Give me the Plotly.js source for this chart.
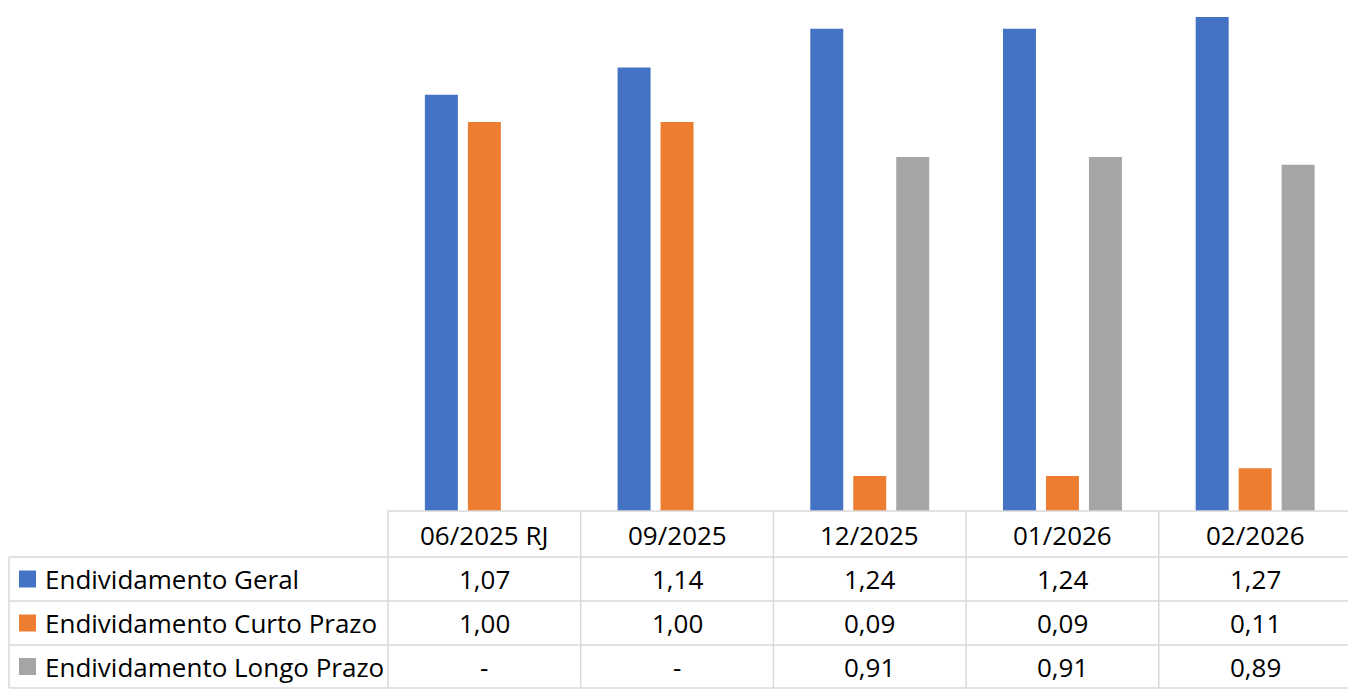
<!DOCTYPE html>
<html>
<head>
<meta charset="utf-8">
<script src="https://cdn.plot.ly/plotly-3.0.1.min.js"></script>
<style>html,body{margin:0;padding:0;background:#fff;}#chart{width:1348px;height:692px;}</style>
</head>
<body>
<div id="chart"></div>
<script>
// ---- data ----
const categories = ["06/2025 RJ", "09/2025", "12/2025", "01/2026", "02/2026"];
const seriesNames = ["Endividamento Geral", "Endividamento Curto Prazo", "Endividamento Longo Prazo"];
const geral = [1.07, 1.14, 1.24, 1.24, 1.27];
const curto = [1.00, 1.00, 0.09, 0.09, 0.11];
const longo = [null, null, 0.91, 0.91, 0.89];
const colors = ["#4472C4", "#ED7D31", "#A5A5A5"];

// ---- layout constants ----
const W = 1348, H = 692;
const L = 388, B = 181;            // plot area margins
const plotH = H - B;               // 511
const catW = 192.7;                // px per category
const xr = [-0.5, -0.5 + (W - L) / catW];
const yr = [0, 1.3136];
const FONT = "Open Sans, Noto Sans, sans-serif";
const FS = 26;
const gridColor = "#D9D9D9";

function px2py(Y) { return (plotH - Y) / plotH; }           // pixel row -> paper y
function cat2px(v) { return (v - xr[0]) / (xr[1] - xr[0]); } // category pos -> paper x
function pxX(X) { return (X - L) / (W - L); }

const allSeries = [geral, curto, longo];
const traces = allSeries.map((vals, k) => ({
  type: "bar",
  name: seriesNames[k],
  x: categories.map((c, i) => i),
  y: vals,
  marker: { color: colors[k], line: { width: 0 } },
  hoverinfo: "skip"
}));

// table geometry (pixel rows)
const rowsY = [511, 557, 601, 645, 688];
const labelLeft = 9;

const shapes = [];
const annotations = [];
const lw = 1.5;
// horizontal lines
shapes.push({ type: "line", xref: "paper", yref: "paper", x0: 0, x1: 1.01, y0: px2py(rowsY[0]), y1: px2py(rowsY[0]), line: { color: gridColor, width: lw } });
for (let r = 1; r < rowsY.length; r++) {
  shapes.push({ type: "line", xref: "paper", yref: "paper", x0: pxX(labelLeft), x1: 1.01, y0: px2py(rowsY[r]), y1: px2py(rowsY[r]), line: { color: gridColor, width: lw } });
}
// vertical lines
shapes.push({ type: "line", xref: "paper", yref: "paper", x0: pxX(labelLeft), x1: pxX(labelLeft), y0: px2py(rowsY[1]), y1: px2py(rowsY[4]), line: { color: gridColor, width: lw } });
for (let i = 0; i <= categories.length; i++) {
  const xp = cat2px(i - 0.5);
  if (xp > 1.001) continue;
  shapes.push({ type: "line", xref: "paper", yref: "paper", x0: xp, x1: xp, y0: px2py(rowsY[0]), y1: px2py(rowsY[4]), line: { color: gridColor, width: lw } });
}

function fmt(v) { return v === null ? "-" : v.toFixed(2).replace(".", ","); }

// header
categories.forEach((c, i) => {
  annotations.push({ xref: "paper", yref: "paper", x: cat2px(i), y: px2py((rowsY[0] + rowsY[1]) / 2 + 1), text: c, showarrow: false, xanchor: "center", yanchor: "middle", font: { family: FONT, size: FS, color: "#000" } });
});
// rows
allSeries.forEach((vals, k) => {
  const yc = px2py((rowsY[k + 1] + rowsY[k + 2]) / 2);
  // legend key
  shapes.push({ type: "rect", xref: "paper", yref: "paper", x0: pxX(19), x1: pxX(36), y0: px2py((rowsY[k + 1] + rowsY[k + 2]) / 2 - 8.5), y1: px2py((rowsY[k + 1] + rowsY[k + 2]) / 2 + 8.5), fillcolor: colors[k], line: { width: 0 } });
  annotations.push({ xref: "paper", yref: "paper", x: pxX(43), y: yc, text: seriesNames[k], showarrow: false, xanchor: "left", yanchor: "middle", font: { family: FONT, size: FS, color: "#000" } });
  vals.forEach((v, i) => {
    annotations.push({ xref: "paper", yref: "paper", x: cat2px(i), y: yc, text: fmt(v), showarrow: false, xanchor: "center", yanchor: "middle", font: { family: FONT, size: FS, color: "#000" } });
  });
});

const layout = {
  width: W, height: H,
  margin: { l: L, r: 0, t: 0, b: B, pad: 0 },
  paper_bgcolor: "#fff", plot_bgcolor: "#fff",
  barmode: "group",
  bargap: 0.331,
  bargroupgap: 0.2326,
  showlegend: false,
  xaxis: { range: xr, showticklabels: false, showgrid: false, zeroline: false, showline: false, ticks: "", fixedrange: true },
  yaxis: { range: yr, showticklabels: false, showgrid: false, zeroline: false, showline: false, ticks: "", fixedrange: true },
  shapes: shapes,
  annotations: annotations,
  font: { family: FONT }
};

Plotly.newPlot("chart", traces, layout, { staticPlot: true, displayModeBar: false });
</script>
</body>
</html>
